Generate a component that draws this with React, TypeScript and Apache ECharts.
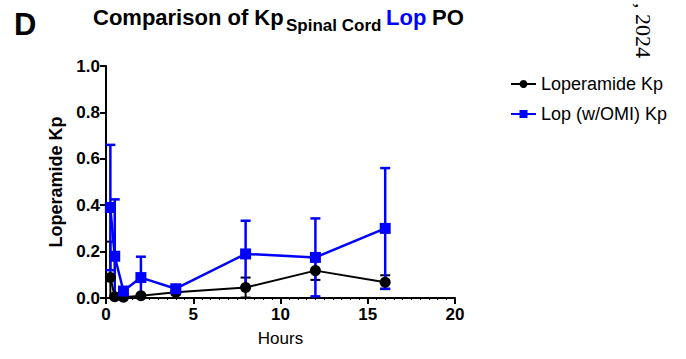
import React, { useEffect, useRef } from "react";
import * as echarts from "echarts";

const hours = [0.25, 0.5, 1, 2, 4, 8, 12, 16];
const lopMean = [0.088, 0.005, 0.003, 0.01, 0.025, 0.045, 0.118, 0.068];
const lopSd = [0.155, 0.005, 0.003, 0.005, 0.01, 0.043, 0.04, 0.03];
const omiMean = [0.39, 0.18, 0.03, 0.088, 0.04, 0.19, 0.175, 0.3];
const omiSd = [0.27, 0.245, 0.01, 0.09, 0.012, 0.143, 0.168, 0.26];
const seriesNames = ["Loperamide Kp", "Lop (w/OMI) Kp"];
const xTicks = [0, 5, 10, 15, 20];
const yTicks = [0, 0.2, 0.4, 0.6, 0.8, 1.0];

const FONT = "'Liberation Sans', Arial, sans-serif";
const BLUE = "#0000ff";

function errorSeries(name: string, means: number[], sds: number[], color: string, width: number) {
  return {
    type: "custom",
    name: name + " err",
    z: 2,
    clip: false,
    data: hours.map((h, i) => [h, means[i] - sds[i], means[i] + sds[i]]),
    encode: { x: 0, y: [1, 2] },
    renderItem: (params: any, api: any) => {
      const x = api.value(0);
      const lo = api.value(1);
      const hi = api.value(2);
      const top = api.coord([x, hi]);
      const bot = api.coord([x, Math.max(lo, 0)]);
      const hw = 5;
      const style = { stroke: color, lineWidth: width };
      const children: any[] = [
        { type: "line", shape: { x1: top[0], y1: top[1], x2: bot[0], y2: bot[1] }, style },
        { type: "line", shape: { x1: top[0] - hw, y1: top[1], x2: top[0] + hw, y2: top[1] }, style },
      ];
      if (lo >= 0) {
        children.push({ type: "line", shape: { x1: bot[0] - hw, y1: bot[1], x2: bot[0] + hw, y2: bot[1] }, style });
      }
      return { type: "group", children };
    },
    silent: true,
  };
}

export default function App() {
  const ref = useRef<HTMLDivElement>(null);
  useEffect(() => {
    if (!ref.current) return;
    const chart = echarts.init(ref.current, undefined, { renderer: "svg" });
    chart.setOption({
      animation: false,
      backgroundColor: "#ffffff",
      textStyle: { fontFamily: FONT },
      grid: { left: 106, right: 231, top: 66, bottom: 61, containLabel: false },
      legend: {
        orient: "vertical",
        left: 505,
        top: 70,
        itemWidth: 25,
        itemHeight: 10,
        itemGap: 12,
        data: seriesNames,
        textStyle: { fontSize: 18, color: "#000", fontFamily: FONT },
      },
      xAxis: {
        type: "value",
        min: xTicks[0],
        max: xTicks[xTicks.length - 1],
        interval: 5,
        name: "Hours",
        nameLocation: "middle",
        nameGap: 32,
        nameTextStyle: { fontSize: 17, color: "#000", fontFamily: FONT },
        axisLine: { show: true, onZero: false, lineStyle: { color: "#000", width: 2 } },
        axisTick: { show: true, length: 6, lineStyle: { color: "#000", width: 2 } },
        minorTick: { show: true, splitNumber: 10, length: 2, lineStyle: { color: "#000", width: 1 } },
        splitLine: { show: false },
        axisLabel: { fontSize: 17, fontWeight: "bold", color: "#000", margin: 8, fontFamily: FONT },
      },
      yAxis: {
        type: "value",
        min: yTicks[0],
        max: yTicks[yTicks.length - 1],
        interval: 0.2,
        name: "Loperamide Kp",
        nameLocation: "middle",
        nameGap: 37,
        nameTextStyle: { fontSize: 18, fontWeight: "bold", color: "#000", fontFamily: FONT },
        axisLine: { show: true, lineStyle: { color: "#000", width: 2 } },
        axisTick: { show: true, length: 6, lineStyle: { color: "#000", width: 2 } },
        splitLine: { show: false },
        axisLabel: {
          fontSize: 17,
          fontWeight: "bold",
          color: "#000",
          margin: 6,
          fontFamily: FONT,
          formatter: (v: number) => v.toFixed(1),
        },
      },
      series: [
        errorSeries(seriesNames[0], lopMean, lopSd, "#000", 2),
        errorSeries(seriesNames[1], omiMean, omiSd, BLUE, 2.5),
        {
          type: "line",
          name: seriesNames[0],
          z: 3,
          data: hours.map((h, i) => [h, lopMean[i]]),
          symbol: "circle",
          symbolSize: 11,
          itemStyle: { color: "#000" },
          lineStyle: { color: "#000", width: 2 },
        },
        {
          type: "line",
          name: seriesNames[1],
          z: 4,
          data: hours.map((h, i) => [h, omiMean[i]]),
          symbol: "rect",
          symbolSize: 11,
          itemStyle: { color: BLUE },
          lineStyle: { color: BLUE, width: 2.5 },
        },
      ],
      graphic: [
        { type: "text", x: 14, y: 24, style: { text: "D", fontSize: 31, fontWeight: "bold", fill: "#000", fontFamily: FONT, verticalAlign: "middle" } },
        { type: "text", x: 93, y: 17, style: { text: "Comparison of Kp", fontSize: 22, fontWeight: "bold", fill: "#000", fontFamily: FONT, verticalAlign: "middle" } },
        { type: "text", x: 286, y: 25, style: { text: "Spinal Cord", fontSize: 17, fontWeight: "bold", fill: "#000", fontFamily: FONT, verticalAlign: "middle" } },
        { type: "text", x: 386, y: 17, style: { text: "Lop", fontSize: 22, fontWeight: "bold", fill: BLUE, fontFamily: FONT, verticalAlign: "middle" } },
        { type: "text", x: 432, y: 17, style: { text: "PO", fontSize: 22, fontWeight: "bold", fill: "#000", fontFamily: FONT, verticalAlign: "middle" } },
        { type: "text", x: 643, y: 58, rotation: -Math.PI / 2, style: { text: ", 2024", fontSize: 22, fill: "#000", fontFamily: "'Liberation Serif', 'Times New Roman', serif", align: "right", verticalAlign: "middle" } },
      ],
    });
    return () => chart.dispose();
  }, []);
  return <div ref={ref} style={{ width: 686, height: 359, position: "absolute", left: 0, top: 0 }} />;
}
